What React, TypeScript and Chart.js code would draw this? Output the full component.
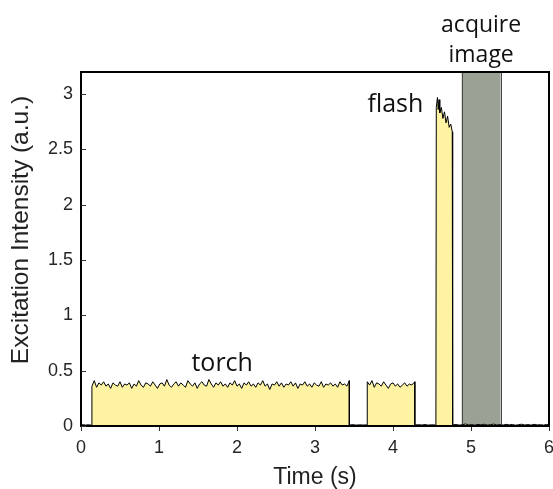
import React, { useEffect, useRef } from "react";
import { Chart, registerables } from "chart.js";

Chart.register(...registerables);

// ---- data ----
const xTicks = [0, 1, 2, 3, 4, 5, 6];
const yTicks = [0, 0.5, 1, 1.5, 2, 2.5, 3];
const xRange = [0, 6];
const yRange = [0, 3.2];

const baselinePreTime = [0, 0.03, 0.06, 0.09, 0.12, 0.14];
const baselinePreLevel = [0.01, 0.012, 0.008, 0.011, 0.009, 0.01];

const torch1Time = [
  0.14, 0.17, 0.2, 0.23, 0.26, 0.29, 0.32, 0.35, 0.38, 0.41,
  0.44, 0.47, 0.5, 0.53, 0.56, 0.59, 0.62, 0.65, 0.68, 0.71,
  0.74, 0.77, 0.8, 0.83, 0.86, 0.89, 0.92, 0.95, 0.98, 1.01,
  1.04, 1.07, 1.1, 1.13, 1.16, 1.19, 1.22, 1.25, 1.28, 1.31,
  1.34, 1.37, 1.4, 1.43, 1.46, 1.49, 1.52, 1.55, 1.58, 1.61,
  1.64, 1.67, 1.7, 1.73, 1.76, 1.79, 1.82, 1.85, 1.88, 1.91,
  1.94, 1.97, 2.0, 2.03, 2.06, 2.09, 2.12, 2.15, 2.18, 2.21,
  2.24, 2.27, 2.3, 2.33, 2.36, 2.39, 2.42, 2.45, 2.48, 2.51,
  2.54, 2.57, 2.6, 2.63, 2.66, 2.69, 2.72, 2.75, 2.78, 2.81,
  2.84, 2.87, 2.9, 2.93, 2.96, 2.99, 3.02, 3.05, 3.08, 3.11,
  3.14, 3.17, 3.2, 3.23, 3.26, 3.29, 3.32, 3.35, 3.38, 3.41, 3.44,
];
const torch1Level = [
  0.36, 0.41, 0.35, 0.39, 0.37, 0.4, 0.36, 0.38, 0.34, 0.39,
  0.37, 0.36, 0.4, 0.35, 0.38, 0.37, 0.39, 0.34, 0.38, 0.36,
  0.41, 0.37, 0.35, 0.39, 0.38, 0.36, 0.4, 0.37, 0.34, 0.38,
  0.39, 0.36, 0.42, 0.37, 0.35, 0.38, 0.4, 0.36, 0.39, 0.37,
  0.35, 0.41, 0.38, 0.36, 0.39, 0.34, 0.38, 0.4, 0.37, 0.36,
  0.42, 0.38, 0.35, 0.39, 0.37, 0.4, 0.36, 0.38, 0.35, 0.39,
  0.37, 0.41, 0.36, 0.38, 0.34, 0.39, 0.37, 0.4, 0.36, 0.38,
  0.35, 0.39, 0.37, 0.41, 0.36, 0.38, 0.33, 0.38, 0.37, 0.4,
  0.36, 0.39, 0.35, 0.38, 0.37, 0.4, 0.36, 0.39, 0.34, 0.38,
  0.37, 0.4, 0.36, 0.38, 0.35, 0.39, 0.37, 0.36, 0.4, 0.35,
  0.38, 0.37, 0.39, 0.36, 0.38, 0.35, 0.4, 0.37, 0.38, 0.36, 0.41,
];

const gap1Time = [3.45, 3.49, 3.53, 3.57, 3.61, 3.67];
const gap1Level = [0.01, 0.012, 0.008, 0.011, 0.009, 0.01];

const torch2Time = [
  3.67, 3.7, 3.73, 3.76, 3.79, 3.82, 3.85, 3.88, 3.91, 3.94,
  3.97, 4.0, 4.03, 4.06, 4.09, 4.12, 4.15, 4.18, 4.21, 4.24, 4.28,
];
const torch2Level = [
  0.4, 0.37, 0.41, 0.35, 0.39, 0.38, 0.36, 0.4, 0.37, 0.34,
  0.38, 0.39, 0.36, 0.38, 0.35, 0.37, 0.39, 0.36, 0.38, 0.37, 0.4,
];

const gap2Time = [4.29, 4.33, 4.37, 4.41, 4.45, 4.49, 4.53, 4.55];
const gap2Level = [0.01, 0.012, 0.009, 0.013, 0.008, 0.011, 0.01, 0.01];

const flashTime = [4.555, 4.57, 4.58, 4.59, 4.6, 4.62, 4.64, 4.66, 4.68, 4.7, 4.72, 4.74, 4.76];
const flashLevel = [2.88, 2.97, 2.86, 2.95, 2.83, 2.88, 2.78, 2.84, 2.74, 2.8, 2.7, 2.73, 2.66];

const baselinePostTime = [
  4.765, 4.81, 4.85, 4.89, 4.93, 4.97, 5.01, 5.05, 5.09, 5.13, 5.17, 5.21,
  5.25, 5.29, 5.33, 5.37, 5.41, 5.45, 5.49, 5.53, 5.57, 5.61, 5.65, 5.69,
  5.73, 5.77, 5.81, 5.85, 5.89, 5.93, 5.97, 6.0,
];
const baselinePostLevel = [
  0.01, 0.014, 0.008, 0.012, 0.018, 0.009, 0.013, 0.007, 0.015, 0.01, 0.016, 0.008,
  0.012, 0.017, 0.009, 0.013, 0.008, 0.015, 0.01, 0.014, 0.007, 0.012, 0.016, 0.009,
  0.013, 0.008, 0.015, 0.01, 0.012, 0.008, 0.014, 0.01,
];

const acquireWindow = [4.88, 5.38];

const torchLabel = { text: "torch", x: 1.81, y: 0.5 };
const flashLabel = { text: "flash", x: 4.03, y: 2.84 };
const acquireLabel = ["acquire", "image"];
const xTitle = "Time (s)";
const yTitle = "Excitation Intensity (a.u.)";

function pairs(t: number[], v: number[]) {
  return t.map((x, i) => ({ x, y: v[i] }));
}

const trace = [
  ...pairs(baselinePreTime, baselinePreLevel),
  ...pairs(torch1Time, torch1Level),
  { x: 3.44, y: gap1Level[0] },
  ...pairs(gap1Time, gap1Level),
  ...pairs(torch2Time, torch2Level),
  { x: 4.28, y: gap2Level[0] },
  ...pairs(gap2Time, gap2Level),
  ...pairs(flashTime, flashLevel),
  ...pairs(baselinePostTime, baselinePostLevel),
];

const W = 553;
const H = 489;

export default function App() {
  const ref = useRef<HTMLCanvasElement | null>(null);

  useEffect(() => {
    if (!ref.current) return;
    const decor = {
      id: "decor",
      beforeDatasetsDraw(chart: any) {
        const { ctx, chartArea, scales } = chart;
        const x0 = scales.x.getPixelForValue(acquireWindow[0]);
        const x1 = scales.x.getPixelForValue(acquireWindow[1]);
        ctx.save();
        ctx.fillStyle = "#9aa295";
        ctx.fillRect(x0, chartArea.top, x1 - x0, chartArea.bottom - chartArea.top);
        ctx.strokeStyle = "#4a4a4a";
        ctx.lineWidth = 1;
        ctx.strokeRect(Math.round(x0) + 0.5, chartArea.top, Math.round(x1 - x0), chartArea.bottom - chartArea.top);
        ctx.restore();
      },
      afterDraw(chart: any) {
        const { ctx, chartArea, scales } = chart;
        const xs = scales.x;
        const ys = scales.y;
        ctx.save();
        // box
        ctx.strokeStyle = "#000";
        ctx.lineWidth = 2;
        ctx.strokeRect(chartArea.left, chartArea.top, chartArea.right - chartArea.left, chartArea.bottom - chartArea.top);
        // inward y ticks
        ctx.strokeStyle = "#333";
        ctx.lineWidth = 1;
        yTicks.forEach((v) => {
          const py = Math.round(ys.getPixelForValue(v)) + 0.5;
          ctx.beginPath();
          ctx.moveTo(chartArea.left, py);
          ctx.lineTo(chartArea.left + 5, py);
          ctx.stroke();
        });
        // annotations
        ctx.fillStyle = "#111";
        ctx.textAlign = "center";
        ctx.textBaseline = "alphabetic";
        ctx.font = "25px 'Open Sans'";
        ctx.fillText(torchLabel.text, xs.getPixelForValue(torchLabel.x), ys.getPixelForValue(torchLabel.y));
        ctx.fillText(flashLabel.text, xs.getPixelForValue(flashLabel.x), ys.getPixelForValue(flashLabel.y));
        ctx.font = "23px 'Open Sans'";
        const cx = xs.getPixelForValue((acquireWindow[0] + acquireWindow[1]) / 2);
        ctx.fillText(acquireLabel[0], cx, chartArea.top - 40);
        ctx.fillText(acquireLabel[1], cx, chartArea.top - 10);
        // axis titles
        ctx.fillStyle = "#222";
        ctx.font = "23px 'Liberation Sans'";
        ctx.fillText(xTitle, (chartArea.left + chartArea.right) / 2, chartArea.bottom + 58);
        ctx.save();
        ctx.translate(28, 230);
        ctx.rotate(-Math.PI / 2);
        ctx.font = "24.5px 'Liberation Sans'";
        ctx.fillText(yTitle, 0, 0);
        ctx.restore();
        ctx.restore();
      },
    };

    const fmt = (v: any) => `${v}`;

    const chart = new Chart(ref.current, {
      type: "scatter",
      data: {
        datasets: [
          {
            data: trace,
            showLine: true,
            borderColor: "#000",
            borderWidth: 1,
            backgroundColor: "#fdf3a2",
            fill: "origin",
            pointRadius: 0,
            tension: 0,
          },
        ],
      },
      options: {
        responsive: false,
        animation: false,
        events: [],
        layout: { autoPadding: false, padding: { top: 72, right: 4, left: 0, bottom: 0 } },
        plugins: { legend: { display: false }, tooltip: { enabled: false } },
        scales: {
          x: {
            type: "linear",
            min: xRange[0],
            max: xRange[1],
            afterBuildTicks: (s: any) => {
              s.ticks = xTicks.map((value) => ({ value }));
            },
            afterFit: (s: any) => {
              s.height = 63;
              s.paddingLeft = 0;
              s.paddingRight = 0;
            },
            grid: { drawOnChartArea: false, drawTicks: true, tickLength: 5, color: "#333" },
            border: { display: true, color: "#000", width: 2 },
            ticks: { color: "#262626", font: { family: "'Liberation Sans'", size: 18 }, padding: 6, maxRotation: 0, callback: fmt },
          },
          y: {
            type: "linear",
            min: yRange[0],
            max: yRange[1],
            afterBuildTicks: (s: any) => {
              s.ticks = yTicks.map((value) => ({ value }));
            },
            afterFit: (s: any) => {
              s.width = 81;
              s.paddingTop = 0;
              s.paddingBottom = 0;
            },
            grid: { display: false, drawTicks: false },
            border: { display: true, color: "#000", width: 2 },
            ticks: { color: "#262626", font: { family: "'Liberation Sans'", size: 18 }, padding: 8, callback: fmt },
          },
        },
      },
      plugins: [decor],
    });
    return () => chart.destroy();
  }, []);

  return (
    <div style={{ position: "absolute", left: 0, top: 0, width: W, height: H, background: "#fff" }}>
      <canvas ref={ref} width={W} height={H} style={{ display: "block" }} />
    </div>
  );
}
